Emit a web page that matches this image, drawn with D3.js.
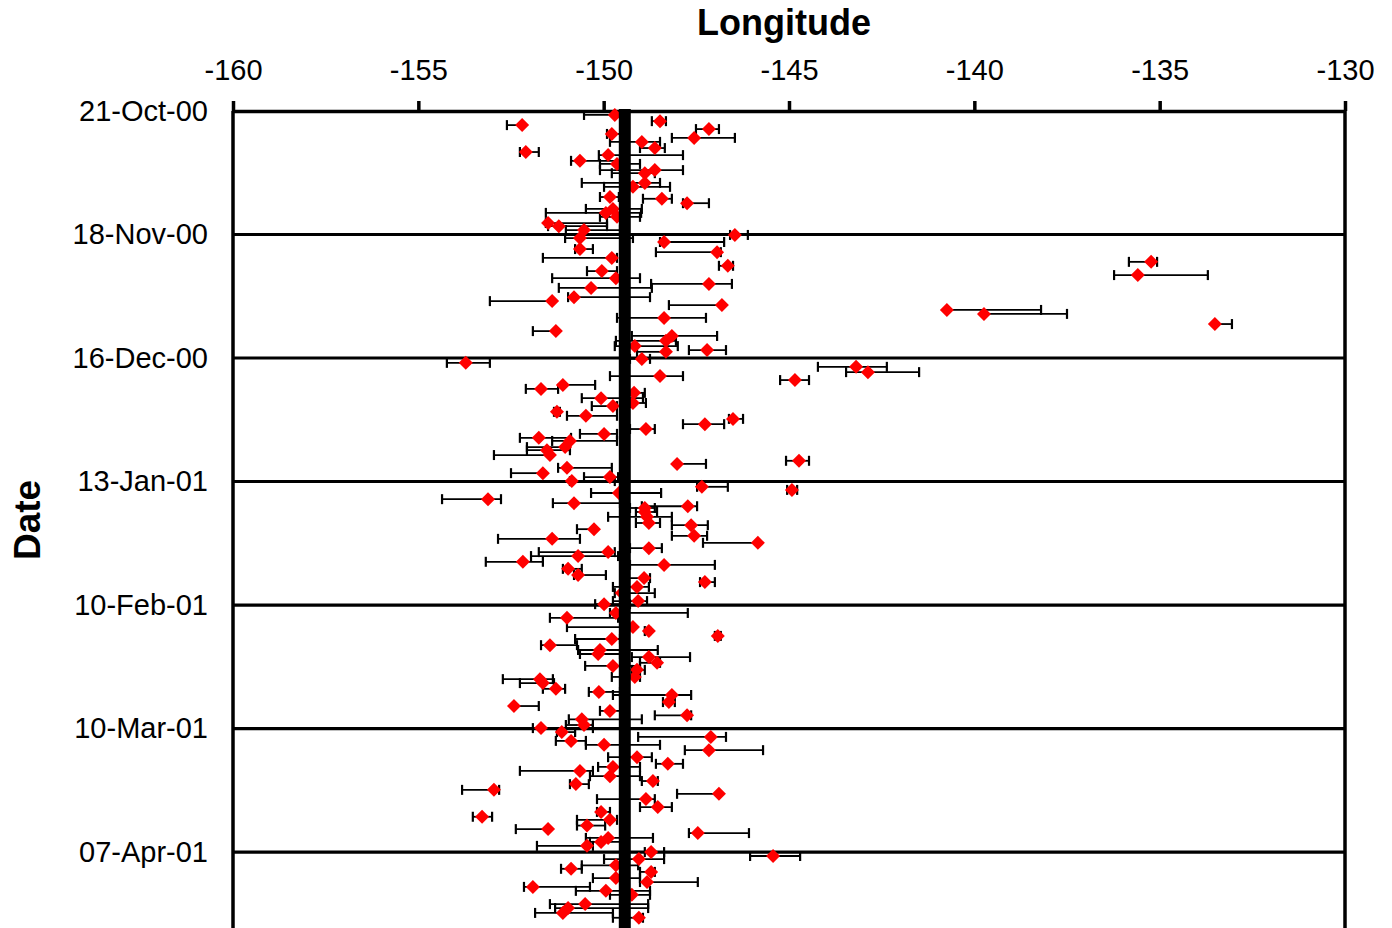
<!DOCTYPE html>
<html>
<head>
<meta charset="utf-8">
<script src="https://cdn.jsdelivr.net/npm/d3@7"></script>
<style>
  html, body { margin: 0; padding: 0; background: #fff; }
  svg { display: block; }
  text { font-family: "Liberation Sans", Arial, sans-serif; fill: #000; }
</style>
</head>
<body>
<script>
// Daily position estimates: days after 21-Oct-2000, longitude and its range
const dayOffset = [
  0.9, 2.3, 3.2, 4.1, 5.2, 6.1, 7.0, 8.4, 9.3, 10.0,
  11.3, 12.0, 13.4, 14.1, 16.3, 17.2, 19.5, 19.9, 20.9, 22.2,
  23.1, 24.0, 25.4, 26.1, 27.0, 28.1, 28.8, 29.7, 31.3, 32.0,
  33.3, 34.2, 35.1, 36.3, 37.2, 37.9, 39.2, 40.1, 42.2, 43.1,
  44.0, 45.1, 46.0, 46.9, 48.3, 49.9, 51.0, 52.1, 53.3, 54.2,
  54.6, 56.2, 57.1, 58.0, 59.2, 60.1, 61.0, 62.1, 63.0, 63.9,
  65.1, 66.2, 66.9, 68.2, 69.1, 69.8, 71.0, 72.1, 73.2, 74.1,
  74.8, 76.2, 76.9, 78.0, 79.3, 80.0, 80.9, 82.1, 83.0, 83.9,
  85.2, 85.9, 86.6, 88.0, 88.9, 89.6, 90.0, 90.9, 92.0, 93.4,
  93.9, 94.8, 96.3, 97.0, 97.9, 99.1, 100.0, 100.9, 102.2, 102.9,
  103.8, 105.2, 105.9, 106.8, 107.9, 109.3, 111.1, 111.8, 113.8, 114.9,
  117.0, 117.9, 119.0, 119.7, 121.1, 122.2, 123.1, 123.8, 125.1, 125.8,
  126.7, 128.3, 128.8, 129.7, 131.0, 131.7, 132.4, 134.0, 134.9, 136.0,
  137.0, 137.9, 139.2, 139.9, 140.8, 141.9, 142.8, 143.7, 144.9, 146.5,
  148.0, 148.7, 149.6, 150.8, 151.9, 152.6, 153.9, 154.8, 156.0, 157.8,
  158.9, 160.0, 160.7, 162.0, 162.8, 163.7, 164.8, 165.7, 166.6, 168.0,
  168.9, 169.6, 171.0, 171.8, 172.5, 173.9, 174.8, 175.9, 176.8, 177.7,
  179.8, 180.7, 181.8, 182.9
];

const longitude = [
  -149.70, -148.48, -152.20, -147.16, -149.78, -147.56, -148.97, -148.62, -152.10, -149.88,
  -150.64, -149.64, -148.62, -148.89, -148.89, -149.21, -149.83, -148.43, -147.75, -149.75,
  -149.94, -149.64, -151.50, -151.21, -150.53, -146.46, -150.64, -148.37, -150.64, -146.94,
  -149.78, -135.23, -146.65, -150.05, -135.59, -149.67, -147.16, -150.34, -150.80, -151.39,
  -146.81, -140.74, -139.74, -148.37, -133.51, -151.29, -148.16, -148.32, -149.16, -147.21,
  -148.32, -148.97, -153.72, -143.19, -142.87, -148.48, -144.84, -151.10, -151.69, -149.18,
  -150.07, -149.21, -149.75, -151.26, -150.48, -146.51, -147.27, -148.86, -149.99, -151.75,
  -150.91, -151.04, -151.53, -151.45, -144.73, -148.02, -150.99, -151.64, -149.83, -150.86,
  -147.35, -144.92, -149.59, -153.12, -150.80, -147.73, -148.89, -148.89, -148.83, -148.78,
  -147.64, -150.26, -147.56, -151.39, -145.84, -148.78, -149.88, -150.69, -152.18, -148.37,
  -150.96, -150.69, -148.91, -147.27, -149.10, -149.51, -149.07, -149.99, -149.67, -150.99,
  -149.21, -148.78, -146.92, -149.78, -151.45, -150.10, -150.15, -148.78, -148.56, -149.75,
  -149.10, -149.16, -151.72, -151.64, -151.29, -150.13, -148.16, -148.24, -152.42, -149.83,
  -147.75, -150.59, -150.53, -151.69, -151.13, -147.11, -150.88, -149.99, -147.16, -149.10,
  -148.27, -149.75, -150.64, -149.83, -148.67, -150.75, -152.96, -146.89, -148.86, -148.54,
  -150.07, -153.28, -149.83, -150.45, -151.50, -147.46, -149.88, -150.07, -150.45, -148.72,
  -145.43, -149.05, -149.67, -150.88, -148.72, -149.67, -148.83, -151.91, -149.94, -149.24,
  -150.50, -150.96, -151.10, -149.05
];

const longitudeMin = [
  -150.53, -148.70, -152.61, -147.51, -149.91, -148.16, -149.83, -149.02, -152.26, -150.13,
  -150.88, -150.10, -150.10, -149.78, -150.59, -149.99, -150.10, -148.94, -147.86, -150.48,
  -151.56, -150.10, -151.56, -151.50, -151.02, -146.59, -151.04, -148.48, -150.77, -148.59,
  -151.64, -135.83, -146.89, -150.45, -136.23, -151.39, -148.72, -151.21, -150.96, -153.07,
  -148.24, -140.74, -139.74, -149.64, -133.51, -151.91, -149.24, -149.67, -149.70, -147.70,
  -149.10, -149.29, -154.23, -144.22, -143.46, -149.83, -145.24, -151.10, -152.10, -149.34,
  -150.59, -149.29, -150.32, -151.34, -150.99, -146.62, -147.86, -149.29, -150.64, -152.26,
  -151.39, -152.07, -152.07, -152.96, -145.08, -148.02, -151.23, -152.50, -150.53, -150.91,
  -147.48, -145.05, -150.34, -154.36, -151.37, -148.97, -149.29, -149.13, -149.88, -149.13,
  -148.16, -150.72, -148.16, -152.85, -147.32, -149.29, -151.75, -151.96, -153.18, -149.29,
  -151.10, -150.80, -149.34, -147.40, -149.75, -149.70, -149.75, -150.23, -149.83, -151.45,
  -150.99, -148.89, -147.00, -150.77, -151.69, -150.69, -150.64, -149.24, -149.02, -150.50,
  -149.24, -149.78, -152.72, -152.26, -151.64, -150.40, -149.75, -148.40, -152.42, -150.10,
  -148.62, -150.94, -151.02, -151.91, -151.26, -149.07, -151.29, -150.48, -147.81, -149.88,
  -148.59, -150.15, -152.26, -150.37, -148.97, -150.91, -153.82, -148.02, -150.18, -149.02,
  -150.18, -153.53, -150.72, -150.72, -152.37, -147.70, -150.48, -150.37, -151.80, -148.89,
  -146.05, -149.99, -150.59, -151.15, -149.02, -150.29, -149.02, -152.15, -150.75, -149.83,
  -151.45, -151.31, -151.85, -149.75
];

const longitudeMax = [
  -149.51, -148.32, -152.20, -146.89, -149.51, -146.46, -148.48, -148.35, -151.75, -147.86,
  -149.56, -149.02, -147.86, -148.62, -148.48, -148.21, -149.59, -148.16, -147.16, -148.97,
  -148.99, -149.02, -149.91, -149.91, -149.56, -146.11, -149.21, -146.75, -150.29, -146.84,
  -149.64, -135.07, -146.51, -149.64, -133.70, -149.02, -146.54, -148.70, -148.75, -151.39,
  -146.81, -138.20, -137.50, -147.24, -133.05, -151.29, -146.94, -148.05, -148.00, -146.70,
  -148.32, -148.75, -153.07, -142.36, -141.49, -147.86, -144.46, -150.23, -151.23, -148.89,
  -148.94, -148.86, -149.64, -151.18, -149.64, -146.24, -146.75, -148.62, -149.64, -150.88,
  -149.64, -150.91, -150.91, -151.45, -144.46, -147.24, -149.78, -151.64, -149.61, -149.70,
  -146.65, -144.78, -148.45, -152.77, -149.56, -147.48, -148.62, -148.56, -148.16, -148.48,
  -147.19, -150.26, -147.21, -150.64, -145.84, -148.43, -149.70, -149.61, -151.64, -147.00,
  -150.59, -149.94, -148.75, -147.00, -148.78, -148.62, -148.83, -149.29, -147.73, -149.61,
  -149.21, -148.75, -146.84, -149.56, -150.72, -148.54, -149.56, -147.67, -148.48, -149.02,
  -148.89, -149.02, -151.37, -151.34, -151.04, -149.56, -147.64, -148.08, -151.75, -149.43,
  -147.64, -148.97, -150.29, -150.29, -150.77, -146.70, -150.48, -148.48, -145.70, -148.70,
  -147.86, -149.02, -150.29, -149.02, -148.54, -150.40, -152.82, -146.89, -148.62, -148.16,
  -149.83, -153.01, -149.64, -149.96, -151.50, -146.08, -148.67, -149.43, -150.29, -148.37,
  -144.70, -148.37, -149.07, -150.59, -148.62, -149.02, -147.46, -150.37, -148.75, -148.75,
  -148.80, -148.80, -149.75, -148.94
];

// Axis ticks and labels
const lonTicks = [-160, -155, -150, -145, -140, -135, -130];
const dateTickDays = [0, 28, 56, 84, 112, 140, 168];
const dateTickLabels = ["21-Oct-00", "18-Nov-00", "16-Dec-00", "13-Jan-01", "10-Feb-01", "10-Mar-01", "07-Apr-01"];

// Reference meridian (station longitude)
const stationLon = -149.43;

const W = 1392, H = 928;
const plotLeft = 233, plotRight = 1345, plotTop = 111;
const dayMax = 186, plotBottom = 111 + dayMax * 4.411;

const svg = d3.select("body").append("svg").attr("width", W).attr("height", H);

const x = d3.scaleLinear().domain([-160, -130]).range([plotLeft, plotRight]);
const y = d3.scaleLinear().domain([0, dayMax]).range([plotTop, plotBottom]);

const points = dayOffset.map((d, i) => ({
  day: d, lon: longitude[i], lo: longitudeMin[i], hi: longitudeMax[i]
}));

// Horizontal gridlines at each date tick
svg.append("g")
  .selectAll("line")
  .data(dateTickDays.slice(1))
  .join("line")
  .attr("x1", plotLeft).attr("x2", plotRight)
  .attr("y1", d => y(d)).attr("y2", d => y(d))
  .attr("stroke", "#000").attr("stroke-width", 3.2);

// Plot side borders
svg.append("g")
  .selectAll("line")
  .data([plotLeft, plotRight])
  .join("line")
  .attr("x1", d => d).attr("x2", d => d)
  .attr("y1", plotTop).attr("y2", plotBottom)
  .attr("stroke", "#000").attr("stroke-width", 3.5);

// Top longitude axis
const xAxis = svg.append("g")
  .attr("transform", `translate(0,${plotTop})`)
  .call(d3.axisTop(x).tickValues(lonTicks).tickSize(10).tickSizeOuter(0).tickPadding(21));
xAxis.select(".domain").attr("stroke", "#000").attr("stroke-width", 3.5);
xAxis.selectAll(".tick line").attr("stroke", "#000").attr("stroke-width", 3.5);
xAxis.selectAll(".tick text")
  .attr("font-size", 29)
  .style("font-family", "'Liberation Sans', Arial, sans-serif")
  .text(d => String(d));

// Left date axis
const yAxis = svg.append("g")
  .attr("transform", `translate(${plotLeft},0)`)
  .call(d3.axisLeft(y).tickValues(dateTickDays).tickSize(0).tickPadding(25)
    .tickFormat((d, i) => dateTickLabels[i]));
yAxis.select(".domain").remove();
yAxis.selectAll(".tick text")
  .attr("font-size", 29)
  .style("font-family", "'Liberation Sans', Arial, sans-serif");

// Error bars
const bars = svg.append("g").attr("stroke", "#000");
bars.selectAll("line.span")
  .data(points)
  .join("line")
  .attr("class", "span")
  .attr("x1", d => x(d.lo)).attr("x2", d => x(d.hi))
  .attr("y1", d => y(d.day)).attr("y2", d => y(d.day))
  .attr("stroke-width", 1.8);
const caps = points.flatMap(d => [{ lon: d.lo, day: d.day }, { lon: d.hi, day: d.day }]);
bars.selectAll("line.cap")
  .data(caps)
  .join("line")
  .attr("class", "cap")
  .attr("x1", d => x(d.lon)).attr("x2", d => x(d.lon))
  .attr("y1", d => y(d.day) - 5).attr("y2", d => y(d.day) + 5)
  .attr("stroke-width", 2.2);

// Diamond markers
const r = 7;
svg.append("g")
  .selectAll("path")
  .data(points)
  .join("path")
  .attr("transform", d => `translate(${x(d.lon)},${y(d.day)})`)
  .attr("d", `M0,${-r}L${r},0L0,${r}L${-r},0Z`)
  .attr("fill", "#ff0000");

// Station meridian
svg.append("line")
  .attr("x1", x(stationLon)).attr("x2", x(stationLon))
  .attr("y1", plotTop - 2).attr("y2", plotBottom)
  .attr("stroke", "#000").attr("stroke-width", 12);

// Axis titles
svg.append("text")
  .attr("x", 784).attr("y", 35)
  .attr("text-anchor", "middle")
  .attr("font-size", 36).attr("font-weight", "bold")
  .text("Longitude");

svg.append("text")
  .attr("transform", "translate(40,520) rotate(-90)")
  .attr("text-anchor", "middle")
  .attr("font-size", 37).attr("font-weight", "bold")
  .text("Date");
</script>
</body>
</html>
